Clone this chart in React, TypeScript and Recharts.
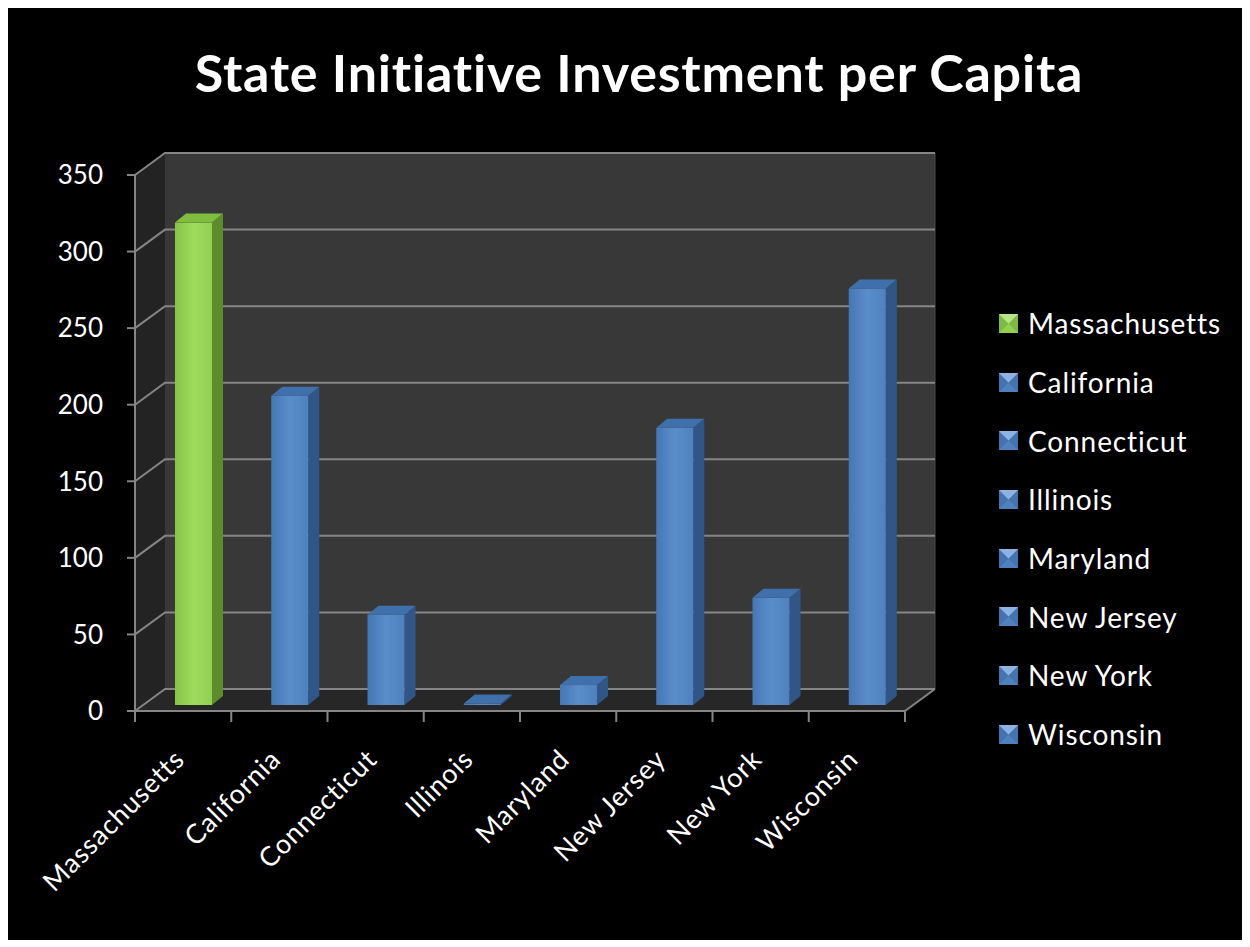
import React from 'react';
import { BarChart, Bar, XAxis, YAxis, CartesianGrid, Legend } from 'recharts';

const chartTitle = 'State Initiative Investment per Capita';
const categories = ['Massachusetts', 'California', 'Connecticut', 'Illinois', 'Maryland', 'New Jersey', 'New York', 'Wisconsin'];
const investment = [315, 202, 59, 1, 13, 181, 70, 272];
const yTicks = [0, 50, 100, 150, 200, 250, 300, 350];
const highlighted = 'Massachusetts';

const data = categories.map((state, i) => ({ state, value: investment[i] }));

const W = 1234;
const H = 932;
const MARGIN = { top: 167, right: 337, bottom: 79, left: 67 };
const Y_AXIS_W = 60;
const X_AXIS_H = 150;
const PLOT_W = W - MARGIN.left - MARGIN.right - Y_AXIS_W;
const WALL_DX = 30;
const WALL_DY = -22;
const BAR_DX = 10;
const BAR_DY = -6;
const BOX_DX = 11;
const BOX_DY = -9;
const FONT = 'Lato, "Open Sans", sans-serif';
const GRID = '#858585';

const palette = {
  green: { face: '#92d050', light: '#9fdc5e', dark: '#86c445', side: '#5e8c2c', cap: '#7fbd3e', swTop: '#b5e68a', swSide: '#7fb843' },
  blue: { face: '#4f81bd', light: '#5a8dcb', dark: '#4677b3', side: '#2f5687', cap: '#4070ab', swTop: '#8db3e2', swSide: '#4573ad' },
};

const colorOf = (state: string) => (state === highlighted ? palette.green : palette.blue);

const Box3D = (props: any) => {
  const { x, y, width, height, payload } = props;
  if (x == null || y == null) return null;
  const c = colorOf(payload.state);
  const gid = payload.state === highlighted ? 'gradGreen' : 'gradBlue';
  const fx = x + BAR_DX;
  const top = y + BAR_DY;
  const bottom = y + height + BAR_DY;
  const w = width;
  return (
    <g>
      <polygon
        points={`${fx + w},${top} ${fx + w + BOX_DX},${top + BOX_DY} ${fx + w + BOX_DX},${bottom + BOX_DY} ${fx + w},${bottom}`}
        fill={c.side}
      />
      <rect x={fx} y={top} width={w} height={Math.max(bottom - top, 0)} fill={`url(#${gid})`} />
      <polygon
        points={`${fx},${top} ${fx + BOX_DX},${top + BOX_DY} ${fx + w + BOX_DX},${top + BOX_DY} ${fx + w},${top}`}
        fill={c.cap}
      />
    </g>
  );
};

const GridLine = (props: any) => {
  const { x1, y1, x2, index, x, y, width, height } = props;
  const px = x ?? MARGIN.left + Y_AXIS_W;
  const py = y ?? MARGIN.top;
  const pw = width ?? PLOT_W;
  const ph = height ?? H - MARGIN.top - MARGIN.bottom - X_AXIS_H;
  return (
    <g key={`gl-${index}`}>
      {index === 0 && (
        <g>
          <defs>
            <linearGradient id="gradBlue" x1="0" y1="0" x2="1" y2="0">
              <stop offset="0" stopColor={palette.blue.dark} />
              <stop offset="0.5" stopColor={palette.blue.light} />
              <stop offset="1" stopColor={palette.blue.face} />
            </linearGradient>
            <linearGradient id="gradGreen" x1="0" y1="0" x2="1" y2="0">
              <stop offset="0" stopColor={palette.green.dark} />
              <stop offset="0.5" stopColor={palette.green.light} />
              <stop offset="1" stopColor={palette.green.face} />
            </linearGradient>
          </defs>
          <rect x={px + WALL_DX} y={py + WALL_DY} width={pw} height={ph} fill="#383838" />
          <polygon
            points={`${px},${py} ${px + WALL_DX},${py + WALL_DY} ${px + WALL_DX},${py + ph + WALL_DY} ${px},${py + ph}`}
            fill="#232323"
          />
          <polygon
            points={`${px},${py + ph} ${px + WALL_DX},${py + ph + WALL_DY} ${px + pw + WALL_DX},${py + ph + WALL_DY} ${px + pw},${py + ph}`}
            fill="#272727"
          />
          <line x1={px + pw + WALL_DX} y1={py + ph + WALL_DY} x2={px + pw} y2={py + ph} stroke={GRID} strokeWidth={2} />
          <line x1={px + pw + WALL_DX} y1={py + WALL_DY} x2={px + pw + WALL_DX} y2={py + ph + WALL_DY} stroke="#4a4a4a" strokeWidth={1} />
        </g>
      )}
      <polyline
        points={`${x1},${y1} ${x1 + WALL_DX},${y1 + WALL_DY} ${x2 + WALL_DX},${y1 + WALL_DY}`}
        fill="none"
        stroke={GRID}
        strokeWidth={2}
      />
    </g>
  );
};

const XTick = (props: any) => {
  const { x, y, payload, index } = props;
  const bw = PLOT_W / categories.length;
  const last = index === categories.length - 1;
  const tx = x + 3;
  const ty = y + 50;
  return (
    <g>
      <line x1={x - bw / 2} y1={y} x2={x - bw / 2} y2={y + 11} stroke={GRID} strokeWidth={2} />
      {last && <line x1={x + bw / 2} y1={y} x2={x + bw / 2} y2={y + 11} stroke={GRID} strokeWidth={2} />}
      <text
        x={tx}
        y={ty}
        transform={`rotate(-45, ${tx}, ${ty})`}
        textAnchor="end"
        fill="#ffffff"
        fontSize={27}
        letterSpacing={0.9}
        fontFamily={FONT}
      >
        {payload.value}
      </text>
    </g>
  );
};

const Swatch = ({ state }: { state: string }) => {
  const c = colorOf(state);
  const s = 19;
  return (
    <svg width={s} height={s} style={{ display: 'block' }}>
      <rect x={0} y={0} width={s} height={s} fill={c.face} />
      <polygon points={`0,0 ${s / 2},${s / 2} 0,${s}`} fill={c.swSide} />
      <polygon points={`${s},0 ${s / 2},${s / 2} ${s},${s}`} fill={c.swSide} />
      <polygon points={`0,0 ${s},0 ${s / 2},${s / 2}`} fill={c.swTop} />
    </svg>
  );
};

const LegendContent = () => (
  <div style={{ fontFamily: FONT }}>
    {categories.map((state) => (
      <div key={state} style={{ display: 'flex', alignItems: 'center', height: 58.7 }}>
        <Swatch state={state} />
        <span style={{ color: '#ffffff', fontSize: 28, letterSpacing: 0.9, marginLeft: 10, whiteSpace: 'nowrap' }}>{state}</span>
      </div>
    ))}
  </div>
);

export default function App() {
  return (
    <div style={{ position: 'relative', width: W, height: H, background: '#000000' }}>
      <div
        style={{
          position: 'absolute',
          left: 0,
          width: W,
          top: 34,
          textAlign: 'center',
          paddingLeft: 28,
          boxSizing: 'border-box',
          color: '#ffffff',
          fontFamily: FONT,
          fontWeight: 700,
          fontSize: 52,
          letterSpacing: 0.8,
          lineHeight: '60px',
        }}
      >
        {chartTitle}
      </div>
      <BarChart width={W} height={H} data={data} margin={MARGIN}>
        <CartesianGrid vertical={false} horizontal={GridLine as any} />
        <XAxis
          dataKey="state"
          interval={0}
          height={X_AXIS_H}
          axisLine={{ stroke: GRID, strokeWidth: 2 }}
          tickLine={false}
          tickSize={0}
          tickMargin={0}
          tick={<XTick />}
        />
        <YAxis
          width={Y_AXIS_W}
          domain={[0, 350]}
          ticks={yTicks}
          interval={0}
          axisLine={{ stroke: GRID, strokeWidth: 2 }}
          tickLine={{ stroke: GRID, strokeWidth: 2 }}
          tickSize={8}
          tickMargin={24}
          tick={{ fill: '#ffffff', fontSize: 26, fontFamily: FONT }}
        />
        <Legend
          layout="vertical"
          align="center"
          verticalAlign="middle"
          content={<LegendContent />}
          wrapperStyle={{ left: 991, top: 286, width: 240 }}
        />
        <Bar dataKey="value" barSize={37} shape={<Box3D />} isAnimationActive={false} />
      </BarChart>
    </div>
  );
}
